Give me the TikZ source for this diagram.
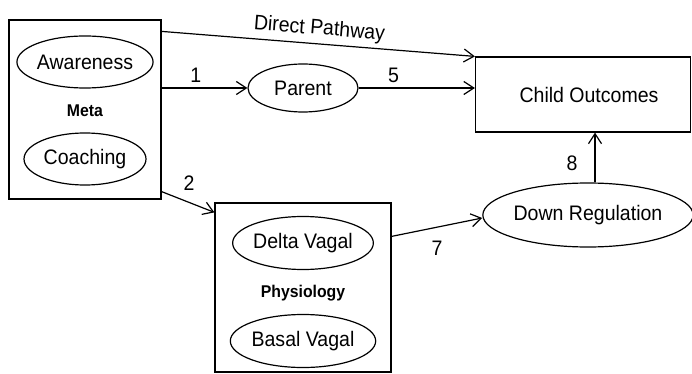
\documentclass[tikz,border=0pt]{standalone}
\usepackage{fontspec}
\setmainfont[FakeStretch=0.93]{Liberation Sans}
\usetikzlibrary{shapes.geometric,arrows.meta,calc}
\begin{document}
\begin{tikzpicture}[x=1pt,y=-1pt,
  every node/.style={font=\fontsize{21}{23}\selectfont},
  box/.style={draw,line width=1.2pt,inner sep=0,minimum width=#1},
  oval/.style={draw,ellipse,line width=1.2pt,inner sep=0},
  bold/.style={font=\fontsize{17}{19}\selectfont\bfseries},
  arr/.style={line width=1.2pt,-{Straight Barb[length=10pt,width=13pt,line width=1.2pt]}},
  ln/.style={line width=1.2pt},
  num/.style={inner sep=0}]
\useasboundingbox (0,0) rectangle (692,374);
% Meta
\node[box=152pt,minimum height=179pt] (meta) at (85,109.5) {};
\node[oval,minimum width=122pt,minimum height=52pt] (aw) at (85,62) {Awareness};
\node[bold] (metat) at (85,111) {Meta};
\node[oval,minimum width=122pt,minimum height=52pt] (co2) at (85,159) {Coaching};
% Parent
\node[oval,minimum width=110pt,minimum height=48pt] (par) at (303,88) {Parent};
% Child outcomes
\node[box=215pt,minimum height=75pt] (co) at (583,94.5) {};
\node (cot) at (589,95) {Child Outcomes};
% Down regulation
\node[oval,minimum width=200pt,minimum height=64pt] (dr) at (588,215) {Down Regulation};
% Physiology
\node[box=176pt,minimum height=169pt] (phy) at (303,287.5) {};
\node[oval,minimum width=137pt,minimum height=53pt] (dv) at (303,243) {Delta Vagal};
\node[bold] (phyt) at (303,293) {Physiology};
\node[oval,minimum width=137pt,minimum height=53pt] (bv) at (303,341) {Basal Vagal};
% connector ends
\coordinate (dstart) at ($(meta.north east)+(0,12)$);
\coordinate (twostart) at ($(meta.south east)+(0,-8)$);
\coordinate (twoend) at ($(phy.north west)+(0,10)$);
\coordinate (sevstart) at ($(phy.north east)+(0,34)$);
% connectors
\draw[arr] (dstart) -- node[pos=0.5,above=1pt,sloped] {Direct Pathway} (co.north west);
\draw[arr] (meta.east |- par) -- node[num,pos=0.4,above=5pt] {1} (par.west);
\draw[arr] (par.east) -- node[num,pos=0.3,above=5pt] {5} (co.west |- par);
\draw[arr] (twostart) -- (twoend);
\node[num] (l2) at (189,183) {2};
\draw[arr] (sevstart) -- ([yshift=-3pt]dr.west);
\node[num] (l7) at (437,248) {7};
\draw[arr] ([xshift=7pt]dr.north) -- ([xshift=12pt]co.south);
\node[num] (l8) at (572,163) {8};
\end{tikzpicture}
\end{document}
